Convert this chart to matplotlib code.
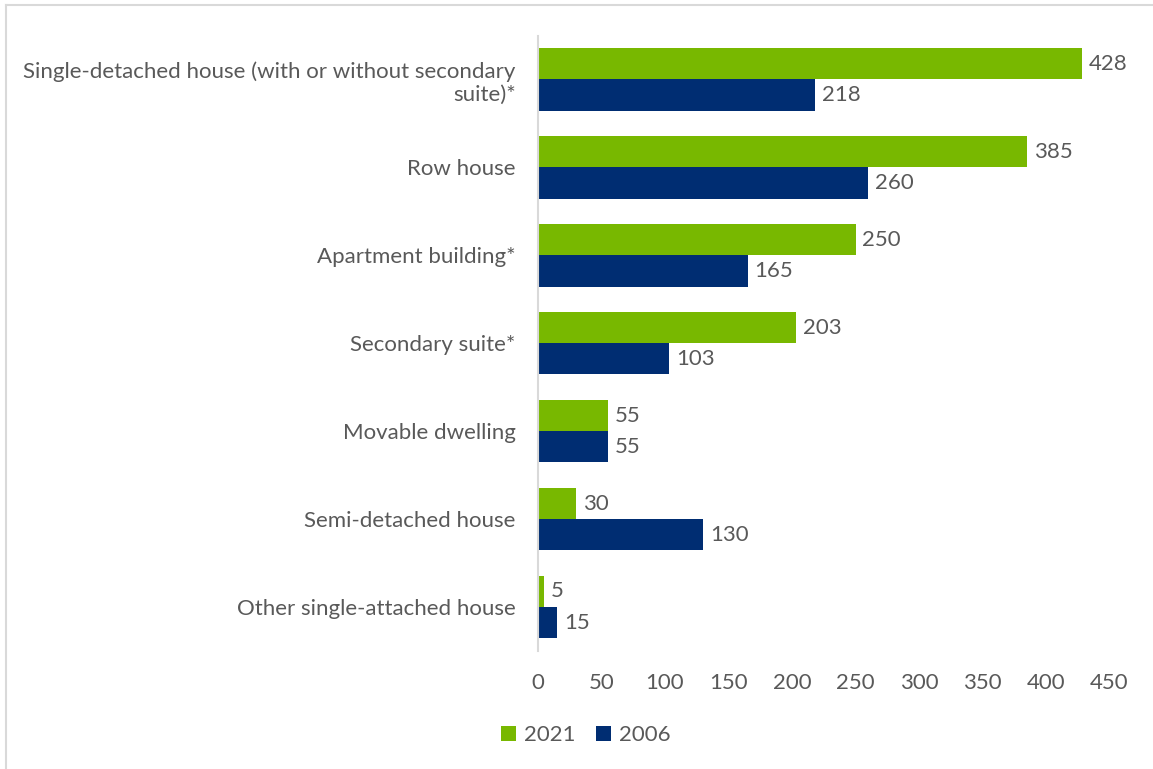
import numpy as np
import matplotlib
matplotlib.use("agg")
from matplotlib import pyplot as plt
from matplotlib.lines import Line2D

categories = [
    "Single-detached house (with or without secondary\nsuite)*",
    "Row house",
    "Apartment building*",
    "Secondary suite*",
    "Movable dwelling",
    "Semi-detached house",
    "Other single-attached house",
]
values_2021 = [428, 385, 250, 203, 55, 30, 5]
values_2006 = [218, 260, 165, 103, 55, 130, 15]
series_names = ["2021", "2006"]
xticks = [0, 50, 100, 150, 200, 250, 300, 350, 400, 450]

green = "#78B800"
navy = "#002D72"
gray = "#595959"
fs = 16

plt.rcParams['font.family'] = ['Lato', 'DejaVu Sans']

fig = plt.figure(figsize=(11.53, 7.69), dpi=100)
ax = fig.add_axes([0.4666, 0.1534, 0.9623 - 0.4666, 0.9538 - 0.1534])

y = np.arange(len(categories))
h = 0.355
b1 = ax.barh(y - h / 2, values_2021, height=h, color=green, label=series_names[0])
b2 = ax.barh(y + h / 2, values_2006, height=h, color=navy, label=series_names[1])
ax.bar_label(b1, padding=5, fontsize=fs, color=gray)
ax.bar_label(b2, padding=5, fontsize=fs, color=gray)

ax.set_ylim(len(categories) - 0.5, -0.5)
ax.set_xlim(0, 450)
ax.set_xticks(xticks)
ax.set_yticks(y)
ax.set_yticklabels(categories, fontsize=fs, color=gray, linespacing=1.2)
ax.tick_params(axis='x', length=0, labelsize=fs, labelcolor=gray, pad=16)
ax.tick_params(axis='y', length=0, pad=16)
for s in ["top", "right", "bottom"]:
    ax.spines[s].set_visible(False)
ax.spines["left"].set_color("#D9D9D9")
ax.spines["left"].set_linewidth(1.5)

leg = ax.legend(loc="center", bbox_to_anchor=(0.508, 0.044), bbox_transform=fig.transFigure,
                ncol=2, frameon=False, fontsize=fs, labelcolor=gray,
                handlelength=0.7, handleheight=0.7, handletextpad=0.35, columnspacing=0.9)

# light border on the left and top edges
fig.add_artist(Line2D([0.0048, 0.0048], [0, 0.9935], transform=fig.transFigure, color="#D9D9D9", lw=1.5))
fig.add_artist(Line2D([0.0048, 1], [0.9935, 0.9935], transform=fig.transFigure, color="#D9D9D9", lw=1.5))

fig.savefig("out.png", dpi=100)
